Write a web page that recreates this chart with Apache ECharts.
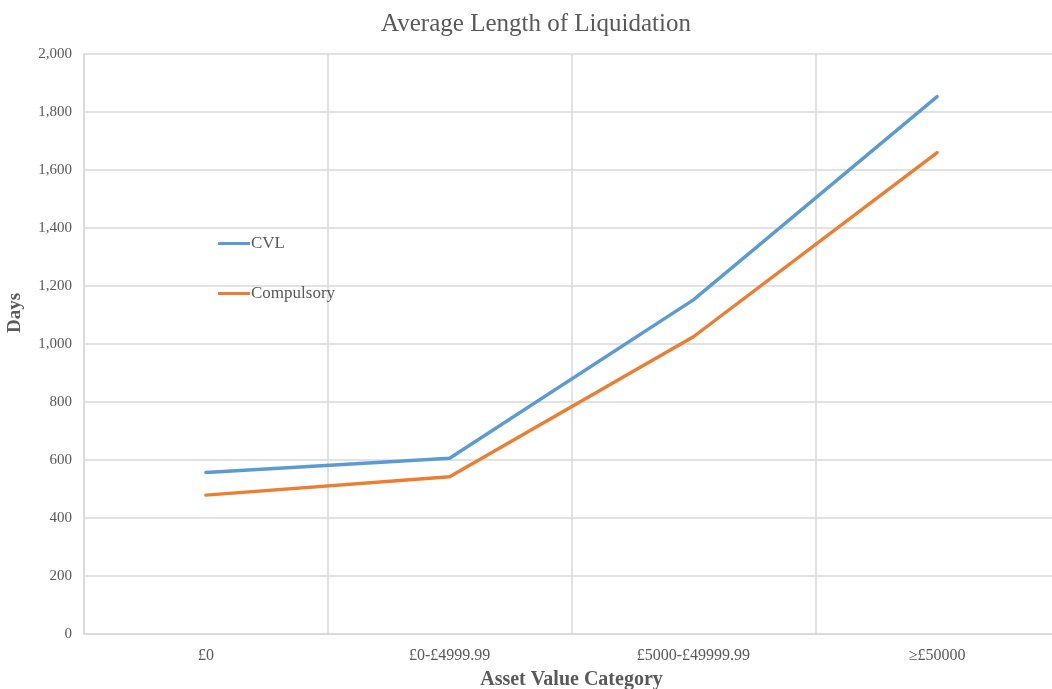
<!DOCTYPE html>
<html>
<head>
<meta charset="utf-8">
<title>Average Length of Liquidation</title>
<script src="https://cdn.jsdelivr.net/npm/echarts@6/dist/echarts.min.js"></script>
<style>
  html, body { margin: 0; padding: 0; background: #ffffff; }
  #chart { width: 1052px; height: 689px; }
</style>
</head>
<body>
<div id="chart"></div>
<script>
// Asset value bands on the x axis
const categories = ['£0', '£0-£4999.99', '£5000-£49999.99', '≥£50000'];
// Average length of liquidation, in days
const cvlDays = [557, 606, 1152, 1853];
const compulsoryDays = [479, 542, 1025, 1660];
// Value axis range
const yMin = 0;
const yMax = 2000;
const yStep = 200;

const serif = '"Liberation Serif", "DejaVu Serif", serif';
const textGrey = '#595959';
const gridGrey = '#d9d9d9';

const chart = echarts.init(document.getElementById('chart'), null, { renderer: 'canvas' });

chart.setOption({
  backgroundColor: '#ffffff',
  animation: false,
  title: {
    text: 'Average Length of Liquidation',
    left: 531,
    top: 7,
    textAlign: 'center',
    textStyle: {
      fontFamily: serif,
      fontSize: 25,
      fontWeight: 'normal',
      color: textGrey
    }
  },
  legend: {
    orient: 'vertical',
    left: 213,
    top: 230,
    itemGap: 33,
    itemWidth: 32,
    itemHeight: 3,
    icon: 'rect',
    textStyle: {
      fontFamily: serif,
      fontSize: 17,
      color: textGrey,
      padding: [0, 0, 0, -4]
    },
    data: ['CVL', 'Compulsory']
  },
  grid: {
    left: 84,
    top: 54,
    width: 975,
    bottom: 55,
    containLabel: false,
    outerBoundsMode: 'none'
  },
  xAxis: {
    type: 'category',
    data: categories,
    boundaryGap: true,
    name: 'Asset Value Category',
    nameLocation: 'middle',
    nameGap: 36,
    nameTextStyle: {
      fontFamily: serif,
      fontSize: 20,
      fontWeight: 'bold',
      color: textGrey
    },
    axisLine: { show: true, lineStyle: { color: gridGrey, width: 1.5 } },
    axisTick: { show: false },
    axisLabel: {
      fontFamily: serif,
      fontSize: 16,
      color: textGrey,
      margin: 14
    },
    splitLine: { show: true, lineStyle: { color: gridGrey, width: 1.5 } }
  },
  yAxis: {
    type: 'value',
    min: yMin,
    max: yMax,
    interval: yStep,
    name: 'Days',
    nameLocation: 'middle',
    nameGap: 59,
    nameRotate: 90,
    nameTextStyle: {
      fontFamily: serif,
      fontSize: 19,
      fontWeight: 'bold',
      color: textGrey,
      padding: [0, 0, 0, 62]
    },
    axisLine: { show: true, lineStyle: { color: gridGrey, width: 1.5 } },
    axisTick: { show: false },
    axisLabel: {
      fontFamily: serif,
      fontSize: 15,
      color: textGrey,
      margin: 12,
      formatter: v => v.toLocaleString('en-GB')
    },
    splitLine: { show: true, lineStyle: { color: gridGrey, width: 1.5 } }
  },
  series: [
    {
      name: 'CVL',
      type: 'line',
      data: cvlDays,
      showSymbol: false,
      symbol: 'none',
      lineStyle: { color: '#5B9BD5', width: 3.4, cap: 'round' },
      itemStyle: { color: '#5B9BD5' }
    },
    {
      name: 'Compulsory',
      type: 'line',
      data: compulsoryDays,
      showSymbol: false,
      symbol: 'none',
      lineStyle: { color: '#ED7D31', width: 3.4, cap: 'round' },
      itemStyle: { color: '#ED7D31' }
    }
  ]
});
</script>
</body>
</html>
